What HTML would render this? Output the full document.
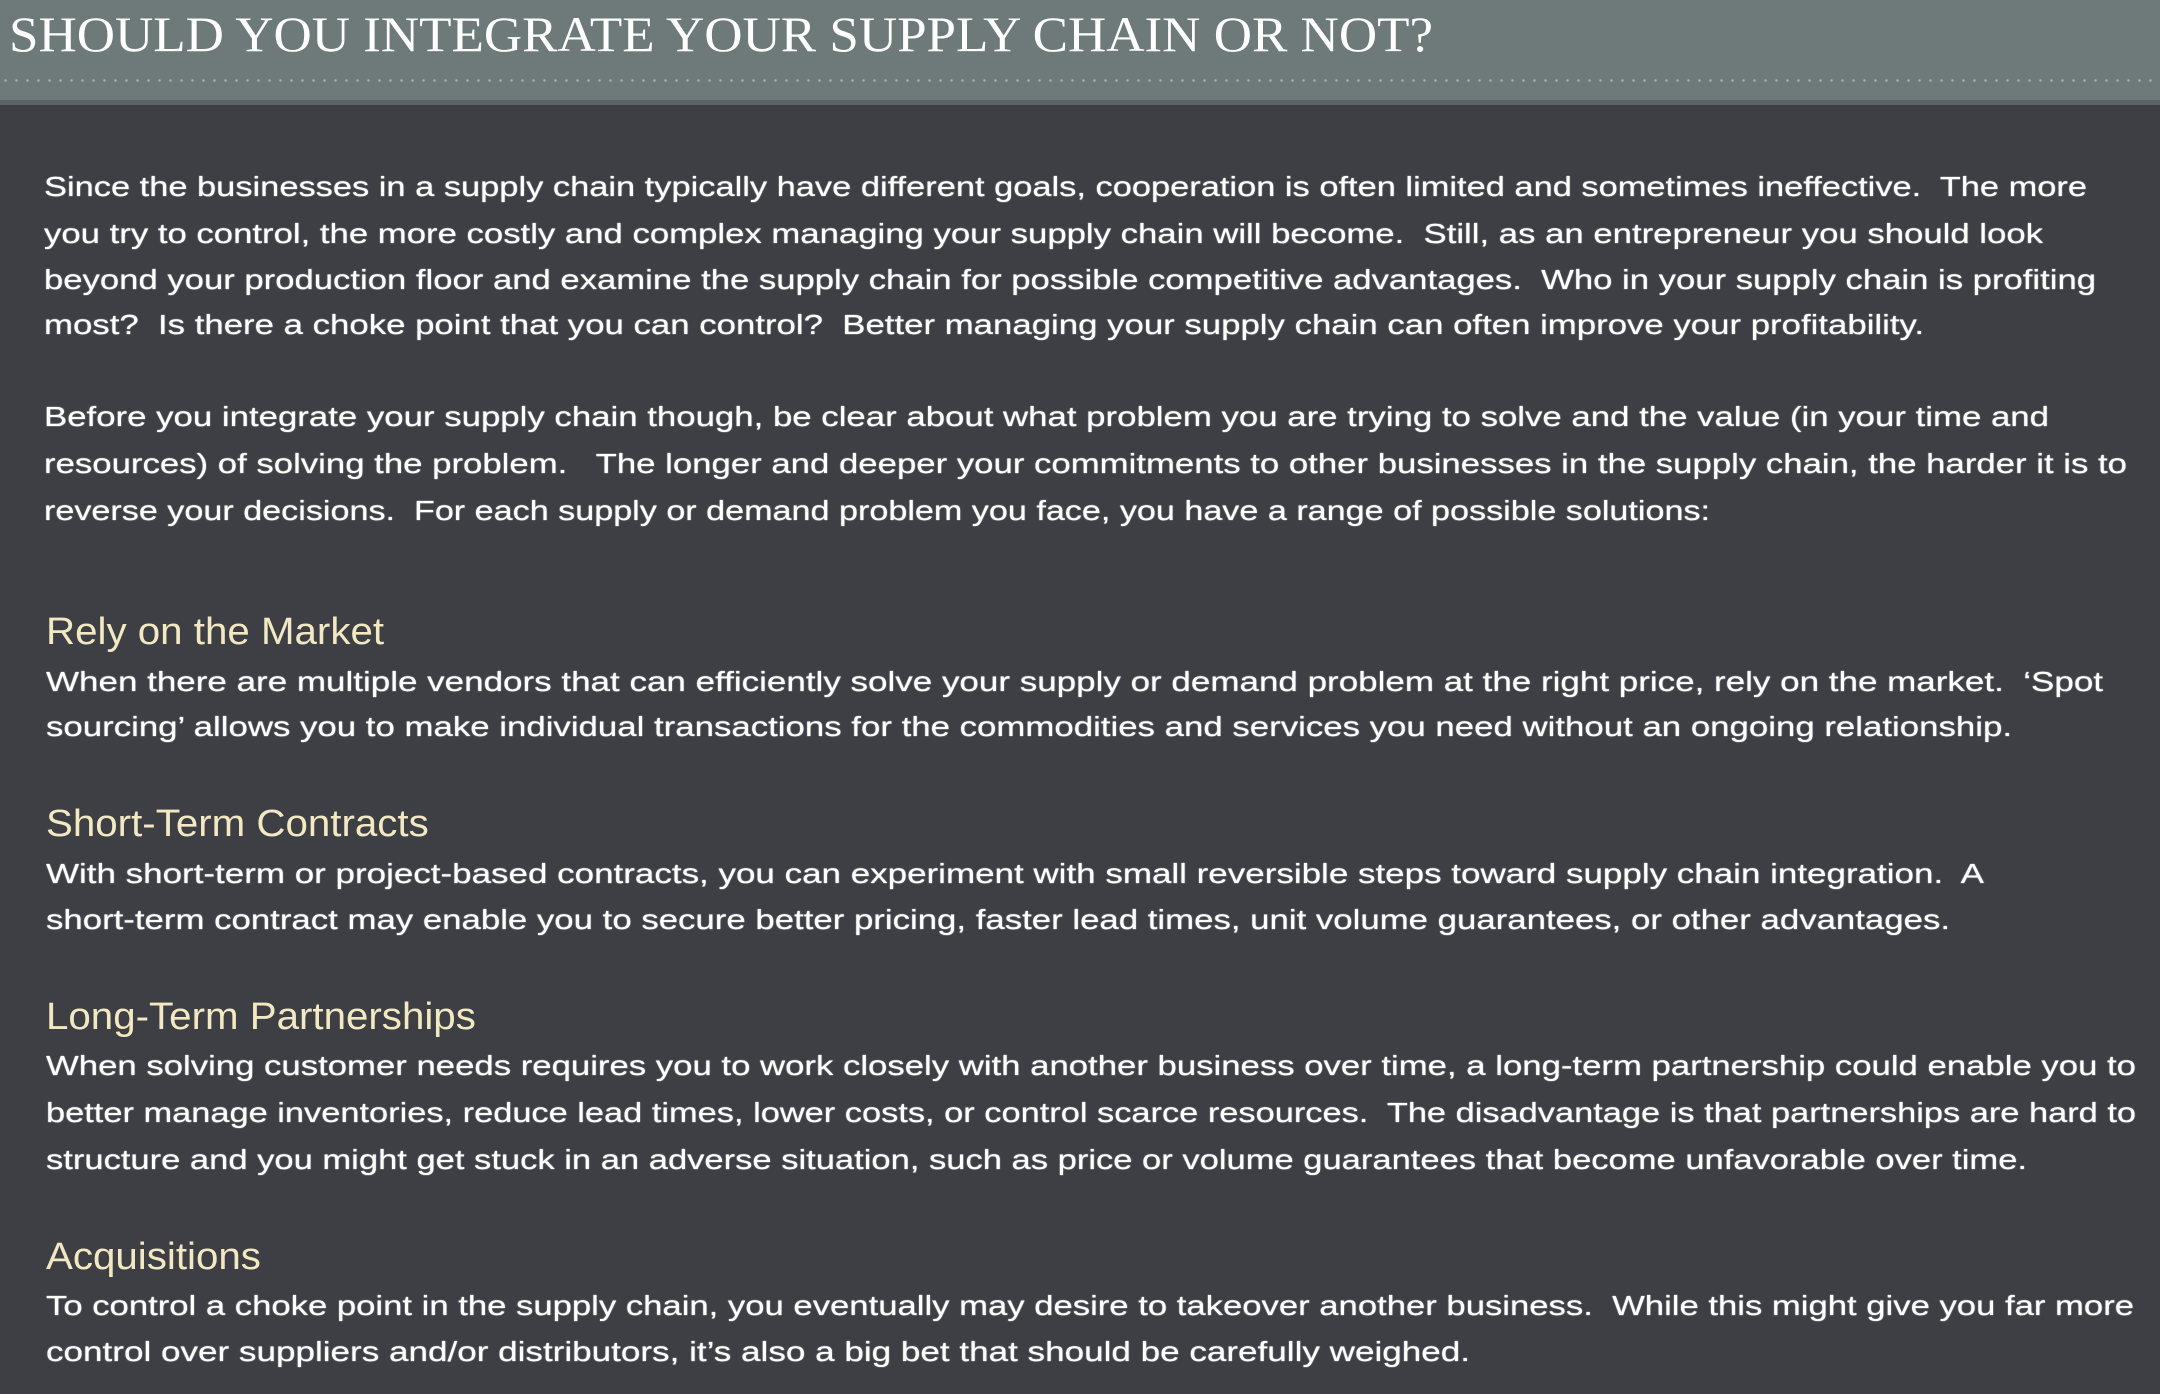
<!DOCTYPE html>
<html><head><meta charset="utf-8"><style>
html,body{margin:0;padding:0;}
body{width:2160px;height:1394px;background:#3e3f45;position:relative;overflow:hidden;font-family:"Liberation Sans",sans-serif;}
#hdr{position:absolute;left:0;top:0;width:2160px;height:100px;background:#6e7979;}
#hdr .t{position:absolute;left:9px;top:5px;font-family:"Liberation Serif",serif;font-size:50px;color:#fff;line-height:58px;white-space:nowrap;transform-origin:0 50%;}
#dots{position:absolute;left:0;top:79px;width:2160px;height:3px;background-image:radial-gradient(circle,#a9b0b0 1px,transparent 1.5px);background-size:11px 3px;}
#strip{position:absolute;left:0;top:100px;width:2160px;height:5px;background:#5d6266;}
.l{position:absolute;left:44px;height:46px;line-height:46px;white-space:nowrap;color:#fff;font-size:28px;transform-origin:0 50%;text-shadow:0 0 1px #fff;}
.h{position:absolute;left:46px;height:50px;line-height:50px;white-space:nowrap;color:#f2e9c2;font-size:38px;transform-origin:0 50%;transform:scaleX(1.06);}
</style></head><body>
<div id="hdr">
<div class="t" id="title">SHOULD YOU INTEGRATE YOUR SUPPLY CHAIN OR NOT?</div>
<div id="dots"></div>
</div>
<div id="strip"></div>

<div>
<div class="l" style="top:164px">Since the businesses in a supply chain typically have different goals, cooperation is often limited and sometimes ineffective.&nbsp; The more</div>
<div class="l" style="top:211px">you try to control, the more costly and complex managing your supply chain will become.&nbsp; Still, as an entrepreneur you should look</div>
<div class="l" style="top:257px">beyond your production floor and examine the supply chain for possible competitive advantages.&nbsp; Who in your supply chain is profiting</div>
<div class="l" style="top:302px">most?&nbsp; Is there a choke point that you can control?&nbsp; Better managing your supply chain can often improve your profitability.</div>
</div>
<div>
<div class="l" style="top:394px">Before you integrate your supply chain though, be clear about what problem you are trying to solve and the value (in your time and</div>
<div class="l" style="top:441px">resources) of solving the problem.&nbsp;&nbsp; The longer and deeper your commitments to other businesses in the supply chain, the harder it is to</div>
<div class="l" style="top:488px">reverse your decisions.&nbsp; For each supply or demand problem you face, you have a range of possible solutions:</div>
</div>

<div class="h" style="top:607px">Rely on the Market</div>
<div>
<div class="l" style="top:659px;left:46px">When there are multiple vendors that can efficiently solve your supply or demand problem at the right price, rely on the market.&nbsp; ‘Spot</div>
<div class="l" style="top:704px;left:46px">sourcing’ allows you to make individual transactions for the commodities and services you need without an ongoing relationship.</div>
</div>

<div class="h" style="top:799px">Short-Term Contracts</div>
<div>
<div class="l" style="top:851px;left:46px">With short-term or project-based contracts, you can experiment with small reversible steps toward supply chain integration.&nbsp; A</div>
<div class="l" style="top:897px;left:46px">short-term contract may enable you to secure better pricing, faster lead times, unit volume guarantees, or other advantages.</div>
</div>

<div class="h" style="top:992px">Long-Term Partnerships</div>
<div>
<div class="l" style="top:1043px;left:46px">When solving customer needs requires you to work closely with another business over time, a long-term partnership could enable you to</div>
<div class="l" style="top:1090px;left:46px">better manage inventories, reduce lead times, lower costs, or control scarce resources.&nbsp; The disadvantage is that partnerships are hard to</div>
<div class="l" style="top:1137px;left:46px">structure and you might get stuck in an adverse situation, such as price or volume guarantees that become unfavorable over time.</div>
</div>

<div class="h" style="top:1232px">Acquisitions</div>
<div>
<div class="l" style="top:1283px;left:46px">To control a choke point in the supply chain, you eventually may desire to takeover another business.&nbsp; While this might give you far more</div>
<div class="l" style="top:1329px;left:46px">control over suppliers and/or distributors, it’s also a big bet that should be carefully weighed.</div>
</div>

<script>
var targets = {
"Since":2043,"you try":1999,"beyond":2052,"most?":1880,"Before":2005,"resources)":2083,"reverse":1666,
"When there":2057,"sourcing":1966,"With short":1938,"short-term":1904,"When solving":2090,"better manage":2090,"structure":1981,
"To control":2088,"control over":1424
};
document.querySelectorAll('.l').forEach(function(el){
  var txt = el.textContent;
  for (var k in targets){
    if (txt.indexOf(k)===0){
      var w = el.getBoundingClientRect().width;
      if (w>0) el.style.transform = 'scaleX(' + (targets[k]/w) + ')';
      break;
    }
  }
});
var t = document.getElementById('title');
var tw = t.getBoundingClientRect().width;
if (tw>0) t.style.transform = 'scaleX(' + (1424/tw) + ')';
</script>
</body></html>
